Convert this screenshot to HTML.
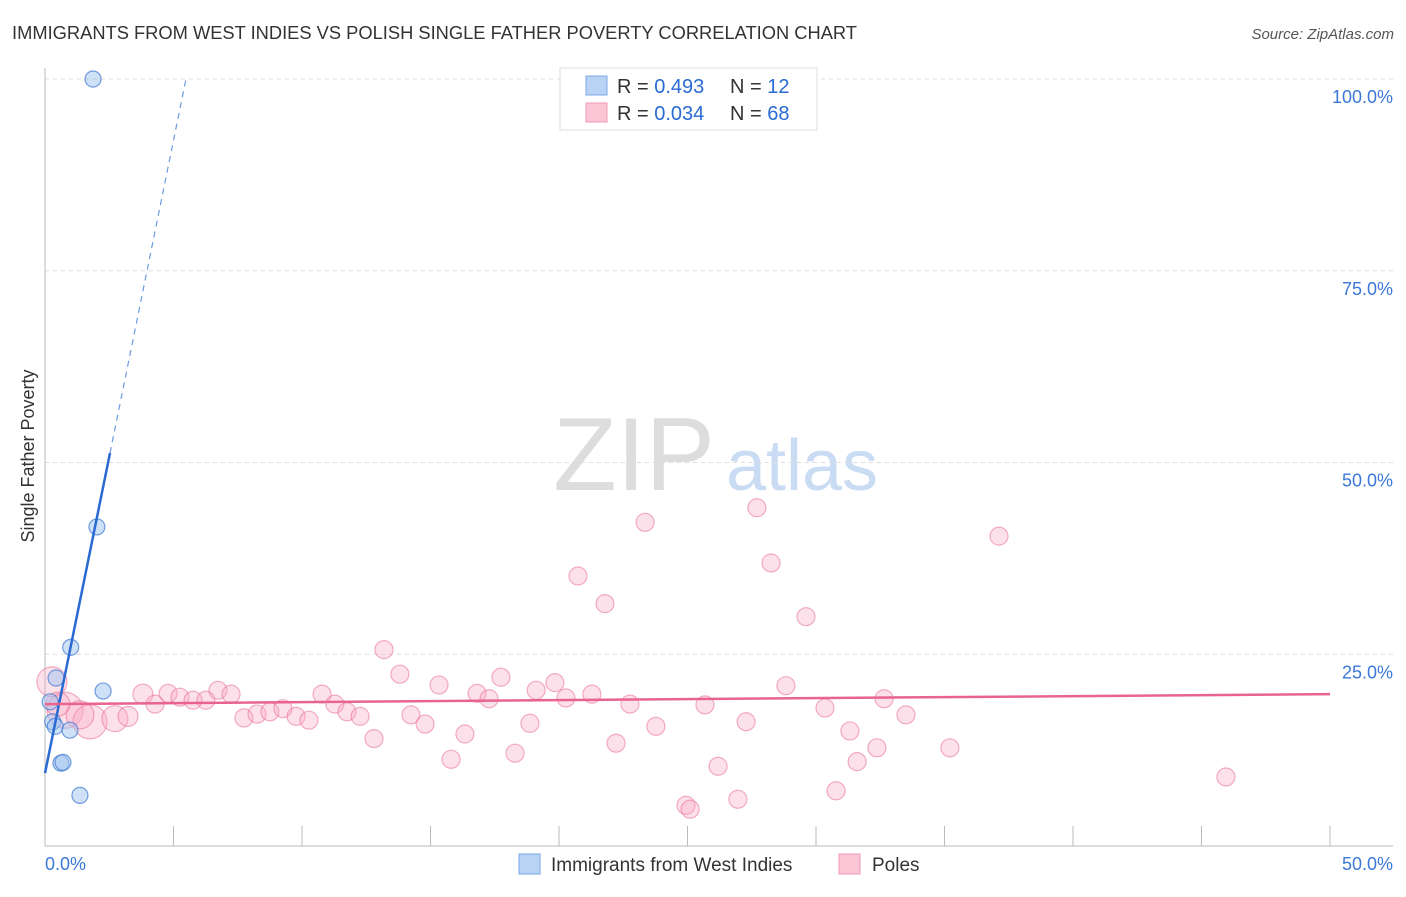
<!DOCTYPE html>
<html><head><meta charset="utf-8"><style>
body{margin:0;background:#fff;font-family:"Liberation Sans",sans-serif}
svg text{font-family:"Liberation Sans",sans-serif}
</style></head><body>
<svg id="chart" width="1406" height="892" xmlns="http://www.w3.org/2000/svg">
<text x="12" y="39" font-size="18" fill="#333" textLength="845" lengthAdjust="spacingAndGlyphs">IMMIGRANTS FROM WEST INDIES VS POLISH SINGLE FATHER POVERTY CORRELATION CHART</text>
<text x="1394" y="39" font-size="15" fill="#555" text-anchor="end" font-style="italic">Source: ZipAtlas.com</text>
<g>
<text x="634" y="490" font-size="104" fill="#ddd" text-anchor="middle" font-family="Liberation Serif">ZIP</text>
<text x="802" y="490" font-size="72" fill="#c9dcf3" text-anchor="middle">atlas</text>
</g>
<g id="grid"></g>
<g id="axes"></g>
<g id="marks"></g>
<text transform="translate(34,456) rotate(-90)" font-size="18" fill="#333" text-anchor="middle">Single Father Poverty</text>
<g>
<rect x="560" y="68" width="257" height="62" fill="#fff" stroke="#ddd"/>
<rect x="586" y="76" width="21" height="19" fill="#b9d3f5" stroke="#7aa8e6"/>
<rect x="586" y="103" width="21" height="19" fill="#fcc5d6" stroke="#f09ab5"/>
<text x="617" y="93" font-size="20" fill="#333">R = <tspan fill="#2a6ad3">0.493</tspan></text>
<text x="730" y="93" font-size="20" fill="#333">N = <tspan fill="#2a6ad3"> 12</tspan></text>
<text x="617" y="120" font-size="20" fill="#333">R = <tspan fill="#2a6ad3">0.034</tspan></text>
<text x="730" y="120" font-size="20" fill="#333">N = <tspan fill="#2a6ad3">68</tspan></text>
</g>
<g>
<rect x="519" y="854" width="21" height="20" fill="#b9d3f5" stroke="#7aa8e6"/>
<text x="551" y="871" font-size="19" fill="#333">Immigrants from West Indies</text>
<rect x="839" y="854" width="21" height="20" fill="#fcc5d6" stroke="#f09ab5"/>
<text x="872" y="871" font-size="19" fill="#333">Poles</text>
</g>
</svg>
<script>
const yTicks=[25,50,75,100];
const yTickLabels=["25.0%","50.0%","75.0%","100.0%"];
const xTicks=[0,5,10,15,20,25,30,35,40,45,50];
const xEndLabels=["0.0%","50.0%"];
const blueX=[1.87,2.02,1.0,2.26,0.43,0.2,0.3,0.4,0.97,0.62,0.7,1.36];
const blueY=[100,41.6,25.9,20.2,21.9,18.8,16.2,15.6,15.1,10.8,10.9,6.6];
const pinkX=[0.27,0.78,1.75,1.36,2.72,3.23,3.81,4.28,4.79,5.25,5.76,6.26,6.73,7.24,7.74,8.25,8.75,9.26,9.77,10.27,10.78,11.28,11.75,12.26,12.8,13.19,13.81,14.24,14.79,15.33,15.8,16.34,16.81,17.28,17.74,18.29,18.87,19.11,19.84,20.27,20.74,21.28,21.79,22.22,22.76,23.35,23.77,24.94,25.1,25.68,26.19,26.96,27.28,27.7,28.25,28.83,29.61,30.35,30.78,31.32,31.6,32.37,32.65,33.5,35.21,37.12,45.95,0.5];
const pinkY=[21.4,17.7,16.2,17.1,16.6,16.9,19.8,18.5,19.9,19.4,19.0,19.0,20.3,19.8,16.7,17.2,17.5,17.9,16.9,16.4,19.8,18.5,17.5,16.9,14.0,25.6,22.4,17.1,15.9,21.0,11.3,14.6,19.9,19.2,22.0,12.1,16.0,20.3,21.3,19.3,35.2,19.8,31.6,13.4,18.5,42.2,15.6,5.3,4.8,18.4,10.4,6.1,16.2,44.1,36.9,20.9,29.9,18.0,7.2,15.0,11.0,12.8,19.2,17.1,12.8,40.4,9.0,18.5];
const pinkR=[15,18,17,14,13,10,10,9,9,9,9,9,9,9,9,9,9,9,9,9,9,9,9,9,9,9,9,9,9,9,9,9,9,9,9,9,9,9,9,9,9,9,9,9,9,9,9,9,9,9,9,9,9,9,9,9,9,9,9,9,9,9,9,9,9,9,9,12];
const blueTrend=[9.5,16.5]; // intercept, slope
const pinkTrend=[18.5,19.8]; // y at x=0, y at x=50
const NS="http://www.w3.org/2000/svg";
const sx=v=>45+v*25.7, sy=v=>846-v*7.67;
function mk(tag,attrs,parent){const e=document.createElementNS(NS,tag);for(const k in attrs)e.setAttribute(k,attrs[k]);document.getElementById(parent).appendChild(e);return e;}
yTicks.forEach((t,i)=>{
 const g=mk('line',{x1:45,x2:1393,y1:sy(t),y2:sy(t),stroke:'#ddd','stroke-dasharray':'4,4'},'grid');
 
 
 const l=mk('text',{x:1393,y:sy(t)+24,'font-size':18,fill:'#3b78d8','text-anchor':'end'},'axes');
 l.textContent=yTickLabels[i];
 
 
});
const ax=mk('line',{x1:45,x2:1393,y1:846,y2:846,stroke:'#bbb'},'axes');


const ay=mk('line',{x1:45,x2:45,y1:68,y2:846,stroke:'#bbb'},'axes');


xTicks.forEach(t=>{const e=mk('line',{x1:sx(t),x2:sx(t),y1:826,y2:846,stroke:'#bbb'},'axes');
 
 });
const xl0=mk('text',{x:45,y:870,'font-size':18,fill:'#3b78d8'},'axes');xl0.textContent=xEndLabels[0];


const xl1=mk('text',{x:1393,y:870,'font-size':18,fill:'#3b78d8','text-anchor':'end'},'axes');xl1.textContent=xEndLabels[1];


pinkX.forEach((x,i)=>{const c=mk('circle',{cx:sx(x),cy:sy(pinkY[i]),r:pinkR[i],fill:'rgba(248,170,195,0.35)',stroke:'rgba(232,110,150,0.55)','stroke-width':1.2},'marks');
 
 });
blueX.forEach((x,i)=>{const c=mk('circle',{cx:sx(x),cy:sy(blueY[i]),r:8,fill:'rgba(160,196,240,0.5)',stroke:'rgba(60,120,210,0.7)','stroke-width':1.2},'marks');
 
 });
const bx1=2.53, bx2=(100-blueTrend[0])/blueTrend[1];
const bt=mk('line',{x1:sx(0),y1:sy(blueTrend[0]),x2:sx(bx1),y2:sy(blueTrend[0]+blueTrend[1]*bx1),stroke:'#2a6ad3','stroke-width':2.5},'marks');


const bd=mk('line',{x1:sx(bx1),y1:sy(blueTrend[0]+blueTrend[1]*bx1),x2:sx(bx2),y2:sy(100),stroke:'#6b9be0','stroke-width':1.2,'stroke-dasharray':'6,5'},'marks');


const pt=mk('line',{x1:sx(0),y1:sy(pinkTrend[0]),x2:sx(50),y2:sy(pinkTrend[1]),stroke:'#e8648f','stroke-width':2.5},'marks');


</script>
</body></html>
